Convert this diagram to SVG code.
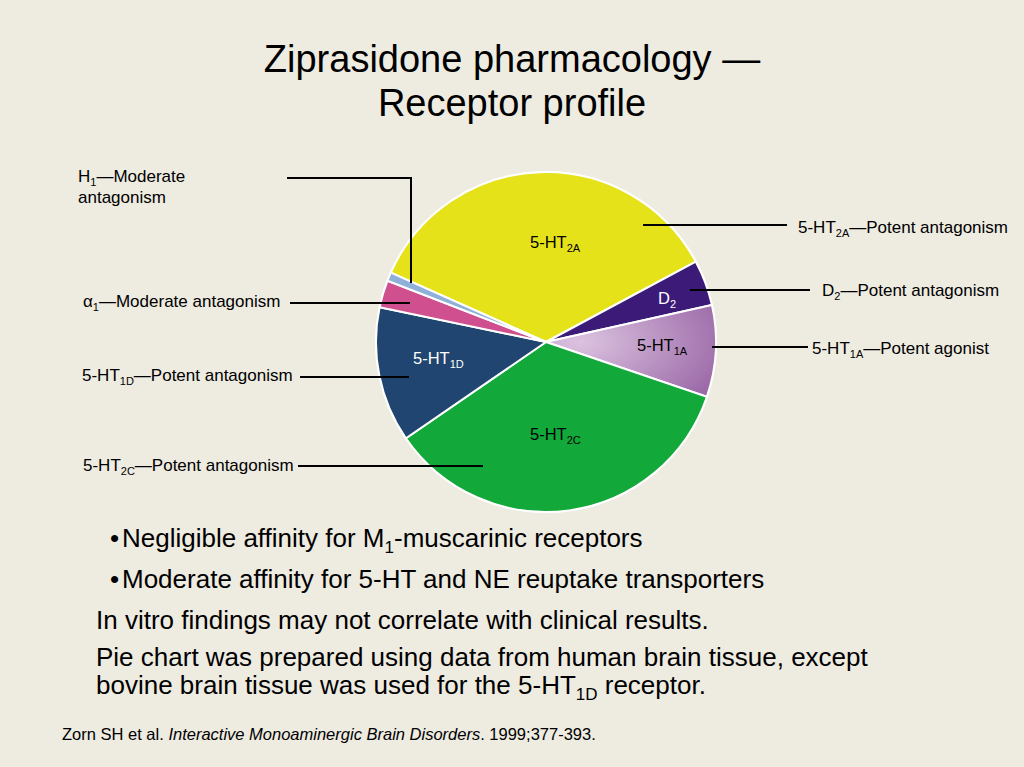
<svg xmlns="http://www.w3.org/2000/svg" width="1024" height="767" viewBox="0 0 1024 767">
<style>
text{font-family:"Liberation Sans",Arial,sans-serif;fill:#000}
.lbl{font-size:17px}
.in{font-size:16.5px}
.w{fill:#fff}
.b{font-size:26px}
.sl{stroke:#fff;stroke-width:2}
.ld{stroke:#000;stroke-width:2;fill:none}
</style>
<defs>
<radialGradient id="g1a" cx="0.2" cy="0.4" r="0.9"><stop offset="0" stop-color="#dcc3e0"/><stop offset="1" stop-color="#9c6aa8"/></radialGradient>
</defs>
<rect width="1024" height="767" fill="#eeebe1"/>
<text x="512" y="72" text-anchor="middle" font-size="38">Ziprasidone pharmacology —</text>
<text x="512" y="116" text-anchor="middle" font-size="38">Receptor profile</text>
<g id="pie">
<circle cx="546" cy="342" r="171" fill="#fff"/>
<path class="sl" fill="#e6e21a" d="M546 342 L390.8 272.6 A170 170 0 0 1 695.8 261.7 Z"/>
<path class="sl" fill="#3b1a78" d="M546 342 L695.8 261.7 A170 170 0 0 1 711.9 304.9 Z"/>
<path class="sl" fill="url(#g1a)" d="M546 342 L711.9 304.9 A170 170 0 0 1 706.9 396.8 Z"/>
<path class="sl" fill="#12a83a" d="M546 342 L706.9 396.8 A170 170 0 0 1 405.9 438.3 Z"/>
<path class="sl" fill="#1f4570" d="M546 342 L405.9 438.3 A170 170 0 0 1 379.6 307.2 Z"/>
<path class="sl" fill="#d0508f" d="M546 342 L379.6 307.2 A170 170 0 0 1 387.4 280.8 Z"/>
<path class="sl" fill="#8fb0d8" d="M546 342 L387.4 280.8 A170 170 0 0 1 390.8 272.6 Z"/>
<text class="in" x="530" y="248">5-HT<tspan font-size="11" dy="4">2A</tspan></text>
<text class="in w" x="658" y="304">D<tspan font-size="11" dy="4">2</tspan></text>
<text class="in" x="637" y="351">5-HT<tspan font-size="11" dy="4">1A</tspan></text>
<text class="in w" x="413" y="364">5-HT<tspan font-size="11" dy="4">1D</tspan></text>
<text class="in" x="530" y="440">5-HT<tspan font-size="11" dy="4">2C</tspan></text>
</g>
<g id="connectors">
<path class="ld" d="M287 178 H411 V283"/>
<path class="ld" d="M643 225 H787"/>
<path class="ld" d="M690 290 H810"/>
<path class="ld" d="M712 347 H808"/>
<path class="ld" d="M290 303 H410"/>
<path class="ld" d="M300 377 H409"/>
<path class="ld" d="M298 466 H483"/>
</g>
<g id="labels">
<text class="lbl" x="78" y="182">H<tspan font-size="11" dy="4">1</tspan><tspan dy="-4">—Moderate</tspan></text>
<text class="lbl" x="78" y="203">antagonism</text>
<text class="lbl" x="798" y="233">5-HT<tspan font-size="11" dy="4">2A</tspan><tspan dy="-4">—Potent antagonism</tspan></text>
<text class="lbl" x="822" y="296">D<tspan font-size="11" dy="4">2</tspan><tspan dy="-4">—Potent antagonism</tspan></text>
<text class="lbl" x="812" y="354">5-HT<tspan font-size="11" dy="4">1A</tspan><tspan dy="-4">—Potent agonist</tspan></text>
<text class="lbl" x="83" y="307">α<tspan font-size="11" dy="4">1</tspan><tspan dy="-4">—Moderate antagonism</tspan></text>
<text class="lbl" x="82" y="381">5-HT<tspan font-size="11" dy="4">1D</tspan><tspan dy="-4">—Potent antagonism</tspan></text>
<text class="lbl" x="83" y="471">5-HT<tspan font-size="11" dy="4">2C</tspan><tspan dy="-4">—Potent antagonism</tspan></text>
</g>
<g id="notes">
<text class="b" x="110" y="547">•</text>
<text class="b" x="122" y="547">Negligible affinity for M<tspan font-size="17" dy="6">1</tspan><tspan dy="-6">-muscarinic receptors</tspan></text>
<text class="b" x="110" y="588">•</text>
<text class="b" x="122" y="588">Moderate affinity for 5-HT and NE reuptake transporters</text>
<text class="b" x="96" y="629">In vitro findings may not correlate with clinical results.</text>
<text class="b" x="96" y="666">Pie chart was prepared using data from human brain tissue, except</text>
<text class="b" x="96" y="694">bovine brain tissue was used for the 5-HT<tspan font-size="17" dy="6">1D</tspan><tspan dy="-6"> receptor.</tspan></text>
<text x="62" y="740" font-size="16.5">Zorn SH et al. <tspan font-style="italic">Interactive Monoaminergic Brain Disorders</tspan>. 1999;377-393.</text>
</g>
</svg>
